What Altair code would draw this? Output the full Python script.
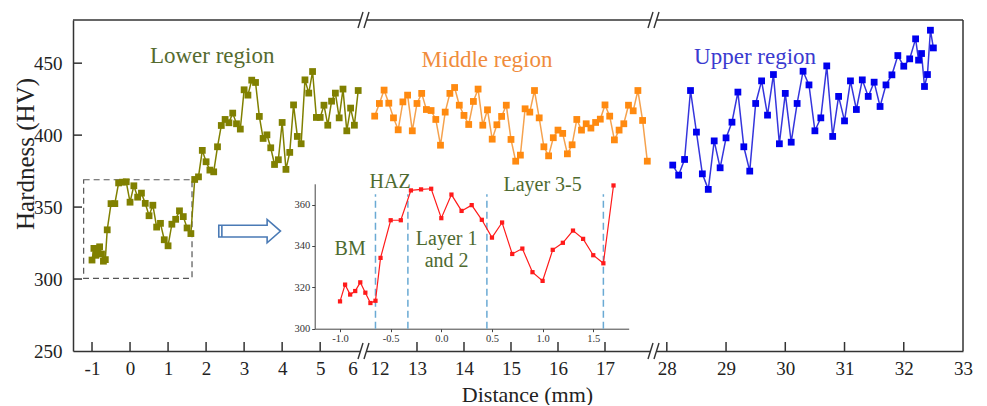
import altair as alt
import pandas as pd

FONT = "Liberation Serif"
FRAME = "#333333"

# ---------------- data ----------------
lower_x = [-1.0, -0.95, -0.9, -0.85, -0.8, -0.75, -0.7, -0.65, -0.6,
           -0.5, -0.4, -0.3, -0.2, -0.1, 0.0, 0.1, 0.2, 0.3, 0.4, 0.5, 0.6, 0.7, 0.8, 0.9,
           1.0, 1.1, 1.2, 1.3, 1.4, 1.5, 1.6, 1.7, 1.8, 1.9,
           2.0, 2.1, 2.2, 2.3, 2.4, 2.5, 2.6, 2.7, 2.8, 2.9,
           3.0, 3.1, 3.2, 3.3, 3.4, 3.5, 3.6, 3.7, 3.8, 3.9,
           4.0, 4.1, 4.2, 4.3, 4.4, 4.5, 4.6, 4.7, 4.8, 4.9,
           5.0, 5.1, 5.2, 5.3, 5.4, 5.5, 5.6, 5.7, 5.8, 5.9,
           6.0]
lower_y = [313.2, 321.3, 316.5, 318.2, 322.4, 317.4, 312.4, 313.5, 334.2,
           352.4, 352.4, 366.8, 367.3, 367.6, 353.4, 364.8, 356.9, 359.7, 352.6, 344.0, 351.3, 336.1, 338.7, 327.3,
           323.1, 338.1, 341.5, 347.4, 343.4, 335.5, 331.6, 369.2, 371.0, 389.4,
           381.5, 375.7, 374.5, 391.9, 406.7, 410.9, 408.6, 415.3, 407.9, 404.2,
           431.5, 427.8, 438.2, 436.6, 413.0, 397.7, 400.2, 391.2, 379.6, 382.9,
           408.8, 376.2, 388.0, 421.0, 399.1, 394.0, 438.4, 429.2, 444.2, 412.3,
           412.3, 420.8, 406.9, 423.6, 429.2, 412.0, 432.0, 403.0, 418.8, 406.9,
           431.0]

middle_x = [12.1, 12.2, 12.3, 12.4, 12.5, 12.6, 12.7, 12.8, 12.9,
            13.0, 13.1, 13.2, 13.3, 13.4, 13.5, 13.6, 13.7, 13.8, 13.9,
            14.0, 14.1, 14.2, 14.3, 14.4, 14.5, 14.6, 14.7, 14.8, 14.9,
            15.0, 15.1, 15.2, 15.3, 15.4, 15.5, 15.6, 15.7, 15.8, 15.9,
            16.0, 16.1, 16.2, 16.3, 16.4, 16.5, 16.6, 16.7, 16.8, 16.9,
            17.0, 17.1, 17.2, 17.3, 17.4, 17.5, 17.6, 17.7, 17.8, 17.9]
middle_y = [413.2, 422.0, 431.3, 422.2, 412.0, 403.7, 423.1, 427.8, 403.0,
            422.0, 429.0, 417.8, 417.1, 410.9, 393.0, 416.0, 429.0, 433.1, 420.8,
            413.7, 407.4, 423.4, 432.0, 406.9, 417.6, 397.2, 407.2, 413.0, 420.8,
            397.0, 381.9, 386.1, 418.3, 416.0, 431.0, 412.0, 391.9, 385.6, 398.2,
            403.5, 401.2, 387.0, 393.3, 410.9, 403.5, 407.9, 404.9, 408.8, 411.1,
            421.0, 413.2, 396.7, 403.5, 407.9, 420.8, 416.9, 431.0, 410.2, 381.9]

upper_x = [28.1, 28.2, 28.3, 28.4, 28.5, 28.6, 28.7, 28.8, 28.9,
           29.0, 29.1, 29.2, 29.3, 29.4, 29.5, 29.6, 29.7, 29.8, 29.9,
           30.0, 30.1, 30.2, 30.3, 30.4, 30.5, 30.6, 30.7, 30.8, 30.9,
           31.0, 31.1, 31.2, 31.3, 31.4, 31.5, 31.6, 31.7, 31.8, 31.9,
           32.0, 32.1, 32.2, 32.25, 32.3, 32.35, 32.4, 32.45, 32.5]
upper_y = [379.2, 372.2, 383.1, 431.0, 402.1, 373.1, 362.3, 396.0, 377.3,
           398.1, 409.0, 429.9, 391.9, 375.0, 422.0, 437.7, 413.9, 442.1, 394.0,
           429.0, 395.1, 422.0, 444.4, 434.9, 403.0, 412.0, 448.1, 399.1, 426.9,
           409.9, 437.7, 417.8, 438.4, 426.9, 436.8, 419.9, 434.9, 441.9, 455.3,
           447.9, 453.0, 466.9, 452.1, 456.7, 433.8, 442.1, 472.9, 460.6]

# zone boundaries marked in the inset (mm)
inset_bounds = [-0.65, -0.33, 0.45, 1.6]

# tick values / labels
y_ticks = [300, 350, 400, 450]
y_labels = [250, 300, 350, 400, 450]
x1_ticks = [-1, 0, 1, 2, 3, 4, 5]
x1_labels = [-1, 0, 1, 2, 3, 4, 5, 5.85]
x2_ticks = [13, 14, 15, 16, 17]
x2_labels = [12.2, 13, 14, 15, 16, 17]
x3_ticks = [28, 29, 30, 31, 32]
x3_labels = [28, 29, 30, 31, 32, 33]
inset_x_labels = [-1.0, -0.5, 0.0, 0.5, 1.0, 1.5]
inset_y_labels = [300, 320, 340, 360]

lower = pd.DataFrame({"x": lower_x, "y": lower_y})
middle = pd.DataFrame({"x": middle_x, "y": middle_y})
upper = pd.DataFrame({"x": upper_x, "y": upper_y})
inset = lower[lower["x"] <= 1.7]

ONE = pd.DataFrame({"a": [0]})

# ---------------- layout ----------------
H = 331
W1, W2, W3 = 289, 290, 311

OLIVE = "#808000"
ORANGE_PT = "#FF8A10"
ORANGE_LN = "#F5A24E"
BLUE_PT = "#0000EE"
BLUE_LN = "#3535DD"
RED = "#FF1A1A"
TXT_GREEN = "#4E6A30"

YS = alt.Scale(domain=[250, 480], nice=False, zero=False)


def xaxis(values, **kw):
    return alt.Axis(values=values, labelExpr="'' + round(datum.value)",
                    ticks=False, tickSize=0, domainColor=FRAME, domainWidth=1.5,
                    labelFont=FONT, labelFontSize=19, labelColor="#222222",
                    labelPadding=8, labelFlush=False, labelOverlap=False,
                    grid=False, **kw)


def frame_top(w):
    return alt.Chart(ONE).mark_rule(color=FRAME, strokeWidth=1.5).encode(
        x=alt.value(0), x2=alt.value(w), y=alt.value(0))


def break_marks():
    layers = []
    for yy in (0, H):
        layers.append(alt.Chart(ONE).mark_rect(color="white", opacity=1).encode(
            x=alt.value(-1.5), x2=alt.value(5), y=alt.value(yy - 2.5), y2=alt.value(yy + 2.5)))
        for x0 in (-4, 2):
            layers.append(alt.Chart(ONE).mark_rule(color=FRAME, strokeWidth=1.4).encode(
                x=alt.value(x0), x2=alt.value(x0 + 5),
                y=alt.value(yy + 8), y2=alt.value(yy - 8)))
    return layers


def series(df, X, Y, pt, ln, size=46):
    line = alt.Chart(df).mark_line(color=ln, strokeWidth=1.5).encode(x=X, y=Y)
    pts = alt.Chart(df).mark_square(color=pt, size=size, opacity=1).encode(x=X, y=Y)
    return [line, pts]


def xtick_rules(vals, X):
    return alt.Chart(pd.DataFrame({"x": vals})).mark_rule(color=FRAME, strokeWidth=1.5).encode(
        x=X, y=alt.value(H - 9), y2=alt.value(H))


def label(text, x, y, color, size=23):
    return alt.Chart(ONE).mark_text(text=text, font=FONT, fontSize=size, color=color).encode(
        x=alt.datum(x), y=alt.datum(y))


# ---------- panel 1 ----------
yaxis1 = alt.Axis(values=y_labels, title=None, ticks=False, tickSize=0,
                  domainColor=FRAME, domainWidth=1.5, labelFont=FONT, labelFontSize=19,
                  labelColor="#222222", labelPadding=11, grid=False)
X1 = alt.X("x:Q", scale=alt.Scale(domain=[-1.5, 6.1], nice=False, zero=False),
           axis=xaxis(x1_labels, title=None))
Y1 = alt.Y("y:Q", scale=YS, axis=yaxis1)

ARROW = ("M -1 -0.19 L 0.567 -0.19 L 0.567 -0.378 L 1 0 L 0.567 0.378 L 0.567 0.19 "
         "L -1 0.19 Z M -0.9 -0.19 L -0.9 0.19")

p1 = alt.layer(
    frame_top(W1),
    xtick_rules(x1_ticks, X1),
    alt.Chart(pd.DataFrame({"y": y_ticks})).mark_rule(color=FRAME, strokeWidth=1.5).encode(
        y=Y1, x=alt.value(0), x2=alt.value(9)),
    alt.Chart(ONE).mark_rect(filled=False, stroke="#555555", strokeWidth=1.2,
                             strokeDash=[6, 4]).encode(
        x=alt.datum(-1.22), x2=alt.datum(1.63), y=alt.datum(300.5), y2=alt.datum(369)),
    alt.Chart(ONE).mark_point(shape=ARROW, size=3807, filled=True, fill="white",
                              stroke="#4A7AB5", strokeWidth=1.6, opacity=1).encode(
        x=alt.datum(3.145), y=alt.datum(333.3)),
    *series(lower, X1, Y1, OLIVE, OLIVE),
    label("Lower region", 2.16, 455, "#556B2F"),
    alt.Chart(ONE).mark_text(text="Hardness (HV)", font=FONT, fontSize=25, angle=270,
                             color="#222222").encode(x=alt.value(-47), y=alt.value(134)),
).properties(width=W1, height=H)

# ---------- panel 2 ----------
X2 = alt.X("x:Q", scale=alt.Scale(domain=[11.83, 18.0], nice=False, zero=False),
           axis=xaxis(x2_labels, title="Distance (mm)", titleFont=FONT, titleFontSize=22,
                      titleFontWeight="normal", titleColor="#222222", titleX=165,
                      titleY=50, titleAlign="center", titleBaseline="alphabetic"))
Y2 = alt.Y("y:Q", scale=YS, axis=None)

main2 = alt.layer(
    frame_top(W2),
    xtick_rules(x2_ticks, X2),
    *series(middle, X2, Y2, ORANGE_PT, ORANGE_LN),
    label("Middle region", 14.49, 452.5, "#F08C3C"),
    *break_marks(),
)

inset_xaxis = alt.Axis(orient="bottom", offset=-22.3, values=inset_x_labels,
                       labelExpr="(datum.value < 0 ? '-' : '') + format(abs(datum.value), '.1f')",
                       title=None, domainColor="#444444", domainWidth=1, tickColor="#444444",
                       tickSize=3, labelFont=FONT, labelFontSize=10.5, labelColor="#333333",
                       labelPadding=2, labelFlush=False, grid=False)
inset_yaxis = alt.Axis(orient="left", offset=47.3, values=inset_y_labels, title=None,
                       domainColor="#444444", domainWidth=1, tickColor="#444444", tickSize=3,
                       labelFont=FONT, labelFontSize=10.5, labelColor="#333333",
                       labelPadding=2, grid=False)
XI = alt.X("x:Q", scale=alt.Scale(domain=[-1.25, 1.85], range=[-47.3, 266.7], nice=False, zero=False),
           axis=inset_xaxis)
YI = alt.Y("y:Q", scale=alt.Scale(domain=[300, 370], range=[308.7, 163.8], nice=False, zero=False),
           axis=inset_yaxis)

inset_layer = alt.layer(
    alt.Chart(pd.DataFrame({"x": inset_bounds})).mark_rule(
        color="#6AAAD4", strokeWidth=1.5, strokeDash=[7, 4]).encode(
        x=XI, y=alt.datum(300), y2=alt.datum(365)),
    alt.Chart(inset).mark_line(color=RED, strokeWidth=1.2).encode(x=XI, y=YI),
    alt.Chart(inset).mark_square(color=RED, size=18, opacity=1).encode(x=XI, y=YI),
    label("HAZ", -0.506, 370.7, TXT_GREEN, 20),
    label("BM", -0.9, 338.5, TXT_GREEN, 20),
    label("Layer 1", 0.053, 343.3, TXT_GREEN, 20),
    label("and 2", 0.053, 332.5, TXT_GREEN, 20),
    label("Layer 3-5", 1.0, 369.6, TXT_GREEN, 20),
)

p2 = alt.layer(main2, inset_layer).resolve_scale(
    x="independent", y="independent").resolve_axis(
    x="independent", y="independent").properties(width=W2, height=H)

# ---------- panel 3 ----------
X3 = alt.X("x:Q", scale=alt.Scale(domain=[27.75, 33.0], nice=False, zero=False),
           axis=xaxis(x3_labels, title=None))
Y3 = alt.Y("y:Q", scale=YS, axis=None)

p3 = alt.layer(
    frame_top(W3),
    alt.Chart(ONE).mark_rule(color=FRAME, strokeWidth=1.5).encode(
        x=alt.value(W3), y=alt.value(0), y2=alt.value(H)),
    xtick_rules(x3_ticks, X3),
    *series(upper, X3, Y3, BLUE_PT, BLUE_LN),
    label("Upper region", 29.49, 454, "#3A3AD0"),
    *break_marks(),
).properties(width=W3, height=H)

chart = alt.hconcat(p1, p2, p3, spacing=0, bounds="flush").properties(
    padding={"left": 14, "top": 11, "right": 5, "bottom": 0}
).configure(font=FONT).configure_view(stroke=None)

chart.save("out.html", embed_options={"renderer": "svg", "actions": False})
